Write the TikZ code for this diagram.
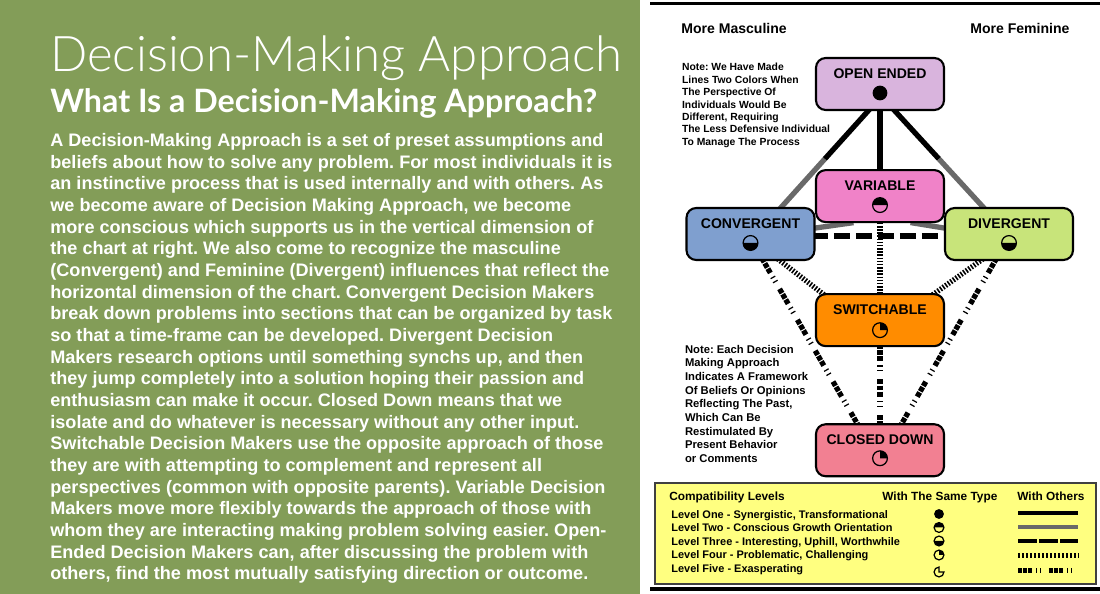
\documentclass[tikz,border=0pt]{standalone}
\usepackage{fontspec}
\setmainfont{Liberation Sans}
\newfontfamily\gilllight{Lato Light}
\newfontfamily\gillbold{Lato}
\usepackage{graphicx}
\usepackage{xcolor}
\usetikzlibrary{positioning,calc,backgrounds}
\definecolor{panelgreen}{RGB}{131,157,88}
\definecolor{oecol}{RGB}{217,180,221}
\definecolor{varcol}{RGB}{240,130,200}
\definecolor{convcol}{RGB}{127,159,207}
\definecolor{divcol}{RGB}{200,228,122}
\definecolor{swcol}{RGB}{255,140,0}
\definecolor{cdcol}{RGB}{242,128,146}
\definecolor{legyellow}{RGB}{255,255,128}
\definecolor{linegray}{RGB}{105,105,105}
\newcommand{\symr}{4.2pt}
\frenchspacing

\tikzset{
  pics/lvlone/.style={code={\fill (0pt,0pt) circle[radius=\symr];}},
  pics/lvltwo/.style={code={
     \fill (\symr,0pt) arc[start angle=0,end angle=180,radius=\symr] -- cycle;
     \draw[line width=.7pt] (0pt,0pt) circle[radius=\symr];}},
  pics/lvlthree/.style={code={
     \fill (\symr,0pt) arc[start angle=0,end angle=-180,radius=\symr] -- cycle;
     \draw[line width=.7pt] (0pt,0pt) circle[radius=\symr];}},
  pics/lvlfour/.style={code={
     \fill (0pt,0pt) -- (\symr,0pt) arc[start angle=0,end angle=90,radius=\symr] -- cycle;
     \draw[line width=.7pt] (0pt,0pt) circle[radius=\symr];}},
  pics/lvlfive/.style={code={
     \draw[line width=.7pt] (0pt,0pt) -- (0pt,\symr)
        arc[start angle=90,end angle=360,radius=\symr] -- cycle;}}
}

\begin{document}
\begin{tikzpicture}[x=0.02cm,y=-0.02cm,
   dmbox/.style={draw,line width=1.2pt,rounded corners=5.5pt,minimum width=2.56cm,
                 minimum height=1.04cm,inner sep=0pt,text height=4pt,text depth=10.8pt,
                 font=\bfseries\fontsize{8}{9}\selectfont},
   lone/.style={line width=3pt,shorten <=-2pt,shorten >=-2pt},
   ltwo/.style={lone,draw=linegray},
   lthree/.style={lone,dash pattern=on 9pt off 3.5pt},
   lfour/.style={lone,dash pattern=on .9pt off .9pt},
   lfive/.style={lone,dash pattern=on 2.8pt off .7pt on 2.8pt off .7pt on 2.8pt off 2.6pt
                 on .7pt off 2pt on .7pt off 4.5pt},
   sample/.style={line width=2.7pt,shorten <=0pt,shorten >=0pt},
   note/.style={anchor=north west,align=left,inner sep=0pt},
   head/.style={anchor=base west,inner sep=0pt,font=\bfseries\fontsize{8}{9}\selectfont},
   legtxt/.style={anchor=base west,inner sep=0pt,font=\bfseries\fontsize{6.25}{7}\selectfont}]
  \useasboundingbox (0,0) rectangle (1100,594);

  % left panel
  \fill[panelgreen] (0,0) rectangle (640,594);
  \node[anchor=base west,inner sep=0pt,text=white] (title) at (50,72)
       {\resizebox{11.44cm}{!}{\gilllight Decision-Making Approach}};
  \node[anchor=base west,inner sep=0pt,text=white] (subtitle) at (50,113)
       {\resizebox{10.94cm}{!}{\gillbold\bfseries What Is a Decision-Making Approach?}};
  \node[note,text=white,font=\bfseries\fontsize{10.3}{12.33}\selectfont] (body) at (50,133)
       {A Decision-Making Approach is a set of preset assumptions and\\
        beliefs about how to solve any problem. For most individuals it is\\
        an instinctive process that is used internally and with others. As\\
        we become aware of Decision Making Approach, we become\\
        more conscious which supports us in the vertical dimension of\\
        the chart at right. We also come to recognize the masculine\\
        (Convergent) and Feminine (Divergent) influences that reflect the\\
        horizontal dimension of the chart. Convergent Decision Makers\\
        break down problems into sections that can be organized by task\\
        so that a time-frame can be developed. Divergent Decision\\
        Makers research options until something synchs up, and then\\
        they jump completely into a solution hoping their passion and\\
        enthusiasm can make it occur. Closed Down means that we\\
        isolate and do whatever is necessary without any other input.\\
        Switchable Decision Makers use the opposite approach of those\\
        they are with attempting to complement and represent all\\
        perspectives (common with opposite parents). Variable Decision\\
        Makers move more flexibly towards the approach of those with\\
        whom they are interacting making problem solving easier. Open-\\
        Ended Decision Makers can, after discussing the problem with\\
        others, find the most mutually satisfying direction or outcome.};

  % right panel
  \draw[line width=1.8pt] (650,3.3) -- (1100,3.3);
  \draw[line width=2.2pt] (650,588.7) -- (1100,588.7);
  \node[head] (masc) at (681,33.3) {More Masculine};
  \node[head] (fem) at (970,33.3) {More Feminine};
  \node[note,font=\bfseries\fontsize{5.9}{7.03}\selectfont] (note1) at (681.7,63.1)
       {Note: We Have Made\\Lines Two Colors When\\The Perspective Of\\Individuals Would Be\\
        Different, Requiring\\The Less Defensive Individual\\To Manage The Process};
  \node[note,font=\bfseries\fontsize{6.4}{7.77}\selectfont] (note2) at (684.7,344.8)
       {Note: Each Decision\\Making Approach\\Indicates A Framework\\Of Beliefs Or Opinions\\
        Reflecting The Past,\\Which Can Be\\Restimulated By\\Present Behavior\\or Comments};

  \node[dmbox,fill=oecol] (oe) at (880,84) {OPEN ENDED};
  \node[dmbox,fill=varcol,below=1.16cm of oe] (var) {VARIABLE};
  \node[dmbox,fill=swcol,below=1.4cm of var] (sw) {SWITCHABLE};
  \node[dmbox,fill=cdcol,below=1.52cm of sw] (cd) {CLOSED DOWN};
  \node[dmbox,fill=convcol] (conv) at (750.5,234) {CONVERGENT};
  \node[dmbox,fill=divcol] (div) at (1009,234) {DIVERGENT};

  \pic at ($(oe.center)+(0,9)$) {lvlone};
  \pic at ($(var.center)+(0,9)$) {lvltwo};
  \pic at ($(conv.center)+(0,9)$) {lvlthree};
  \pic at ($(div.center)+(0,9)$) {lvlthree};
  \pic at ($(sw.center)+(0,10)$) {lvlfour};
  \pic at ($(cd.center)+(0,8)$) {lvlfour};

  \coordinate (oel) at ($(oe.south)+(-12,0)$);
  \coordinate (oer) at ($(oe.south)+(15,0)$);
  \coordinate (convt) at ($(conv.north)+(31,0)$);
  \coordinate (divt) at ($(div.north)+(-26,0)$);

  \begin{scope}[on background layer]
    \draw[lone] (oe) -- (var);
    \draw[lone,shorten >=0pt] (oel) -- ($(oel)!.5!(convt)$);
    \draw[ltwo,shorten <=0pt] ($(oel)!.5!(convt)$) -- (convt);
    \draw[lone,shorten >=0pt] (oer) -- ($(oer)!.5!(divt)$);
    \draw[ltwo,shorten <=0pt] ($(oer)!.5!(divt)$) -- (divt);
    \draw[ltwo] ($(conv.east)+(0,-6)$) -- ($(var.south)+(-30,0)$);
    \draw[ltwo] ($(var.south)+(34,0)$) -- ($(div.west)+(0,-6)$);
    \draw[lthree] ($(conv.east)+(0,2)$) -- ($(div.west)+(0,2)$);
    \draw[lfour] (var) -- (sw);
    \draw[lfour] ($(conv.south)+(30,0)$) -- ($(sw.north west)+(7,0)$);
    \draw[lfour] ($(div.south)+(-29,0)$) -- ($(sw.north east)+(-10,0)$);
    \draw[lfive] (sw) -- (cd);
    \draw[lfive] ($(conv.south)+(13,0)$) -- ($(cd.north)+(-23,0)$);
    \draw[lfive] ($(div.south)+(-14,0)$) -- ($(cd.north)+(22,0)$);
  \end{scope}

  % legend
  \draw[draw=black!75,line width=.9pt,fill=legyellow] (655,483) rectangle (1096,584);
  \node[legtxt,font=\bfseries\fontsize{6.75}{8}\selectfont] (hcompat) at (669,501) {Compatibility Levels};
  \node[legtxt,font=\bfseries\fontsize{6.75}{8}\selectfont] (hsame) at (882,501) {With The Same Type};
  \node[legtxt,font=\bfseries\fontsize{6.75}{8}\selectfont] (hothers) at (1017,501) {With Others};
  \foreach \txt [count=\i] in {{Level One - Synergistic, Transformational},
      {Level Two - Conscious Growth Orientation},
      {Level Three - Interesting, Uphill, Worthwhile},
      {Level Four - Problematic, Challenging},
      {Level Five - Exasperating}}
    \node[legtxt] (lvl\i) at (671,{518.5+13.4*(\i-1)}) {\txt};
  \begin{scope}
    \renewcommand{\symr}{2.8pt}
    \pic at (939,514) {lvlone};
    \pic at (939,527.5) {lvltwo};
    \pic at (939,541) {lvlthree};
    \pic at (939,555) {lvlfour};
    \pic at (939,572) {lvlfive};
  \end{scope}
  \draw[lone,sample] (1018,513) -- (1078,513);
  \draw[ltwo,sample] (1018,527) -- (1078,527);
  \draw[lthree,sample,dash pattern=on 10.6pt off 1.4pt] (1018,541) -- (1078,541);
  \draw[lfour,sample,dash pattern=on 1.1pt off 1.17pt] (1018,555.3) -- (1078,555.3);
  \draw[lfive,sample,dash pattern=on 2.3pt off .6pt on 2.3pt off .6pt on 2.3pt off 2.3pt
        on .6pt off 1.7pt on .6pt off 4.3pt] (1018,570.5) -- (1078,570.5);
\end{tikzpicture}
\end{document}
